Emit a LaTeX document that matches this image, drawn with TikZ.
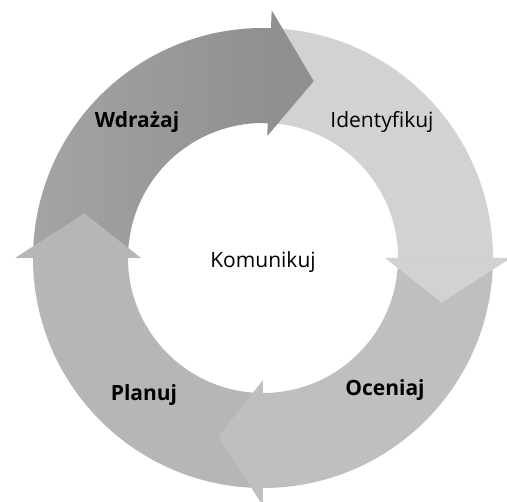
\documentclass[tikz,border=0pt]{standalone}
\usepackage{fontspec}
\setmainfont{Open Sans}
\definecolor{wdrG}{HTML}{A4A4A4}
\definecolor{wdrH}{HTML}{909090}
\definecolor{ideG}{HTML}{D2D2D2}
\definecolor{ocnG}{HTML}{BFBFBF}
\definecolor{plnG}{HTML}{B6B6B6}
\begin{document}
\begin{tikzpicture}[line width=.45pt,font=\fontsize{21}{24}\selectfont]
 \useasboundingbox (-263pt,-244pt) rectangle (244pt,258pt);
 % ring pieces
 \shade[left color=wdrG,right color=wdrH] (180:135pt) arc[start angle=180,end angle=88,radius=135pt]
   -- (88:230pt) arc[start angle=88,end angle=180,radius=230pt] -- cycle;
 \fill[ideG] (88:135pt) arc[start angle=88,end angle=0,radius=135pt]
   -- (0:230pt) arc[start angle=0,end angle=88,radius=230pt] -- cycle;
 \fill[ocnG] (0:135pt) arc[start angle=0,end angle=-90,radius=135pt]
   -- (-90:230pt) arc[start angle=-90,end angle=0,radius=230pt] -- cycle;
 \fill[plnG] (-90:135pt) arc[start angle=-90,end angle=-180,radius=135pt]
   -- (-180:230pt) arc[start angle=-180,end angle=-90,radius=230pt] -- cycle;
 % heads (the first one reaches a little back, so no seam)
 \fill[wdrH] (89.5:135pt) -- (88:135pt) -- (88:122pt) -- (74:184pt) -- (88:248pt)
   -- (88:230pt) -- (89.5:230pt) -- cycle;
 \fill[ideG] (0:122pt) -- (0:248pt) -- (-14:184pt) -- cycle;
 \fill[ocnG] (-90:122pt) -- (-90:248pt) -- (-104:184pt) -- cycle;
 \fill[plnG] (180:122pt) -- (180:248pt) -- (166:184pt) -- cycle;
 % labels
 \node (wdr) at (-126pt,136pt) {\bfseries Wdrażaj};
 \node (ide) at (119pt,136pt) {Identyfikuj};
 \node (ocn) at (122pt,-132pt) {\bfseries Oceniaj};
 \node (pln) at (-119pt,-137pt) {\bfseries Planuj};
 \node (kom) at (0pt,-4pt) {Komunikuj};
\end{tikzpicture}
\end{document}
